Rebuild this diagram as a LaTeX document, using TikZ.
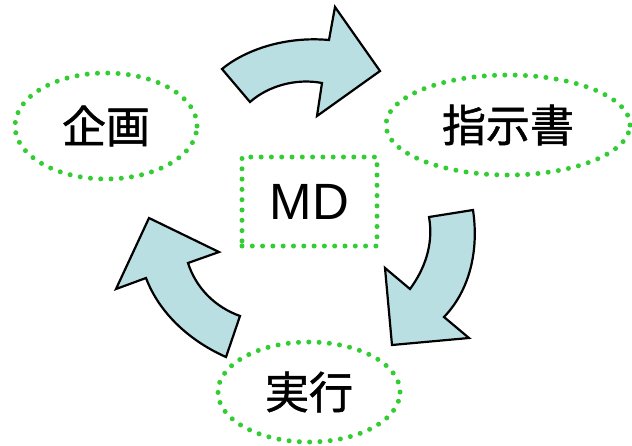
\documentclass[tikz,border=0pt]{standalone}
\usepackage{fontspec}
\setmainfont{Noto Sans CJK JP}
\newfontfamily\mdfont{Liberation Sans}
\usetikzlibrary{shapes.geometric}
\definecolor{dotgreen}{RGB}{50,205,50}
\definecolor{arrowfill}{RGB}{185,223,226}
\tikzset{
  dotline/.style={draw=dotgreen, line width=5pt, line cap=round, dash pattern=on 0pt off 10.3pt},
  ell/.style={ellipse, dotline, inner sep=0pt, font=\fontsize{44}{47}\selectfont\addfontfeatures{FakeBold=1.2}},
  blockarrow/.style={draw=black, line width=2.2pt, fill=arrowfill, line join=miter},
}
\begin{document}
\begin{tikzpicture}[x=1pt,y=-1pt]
\useasboundingbox (0,0) rectangle (632,445);
% ellipses
\node[ell, minimum width=182pt, minimum height=106pt] (kikaku) at (106,126) {企画};
\node[ell, minimum width=244pt, minimum height=100pt] (shiji) at (508,125) {指示書};
\node[ell, minimum width=182pt, minimum height=100pt] (jikko) at (309,392) {実行};
\node[dotline, rectangle, minimum width=135pt, minimum height=89pt, inner sep=0pt, font=\mdfont\fontsize{51}{54}\selectfont] (md) at (309.5,201.5) {MD};
% top arrow
\draw[blockarrow] (222,69) .. controls (245,50) and (285,36) .. (329,40)
  -- (335,7) -- (380,71) -- (317,116) -- (322,83)
  .. controls (296,78) and (268,86) .. (250,102) -- cycle;
% right arrow
\draw[blockarrow] (473,210) .. controls (479,250) and (470,290) .. (444,317)
  -- (469,338) -- (392,345) -- (385,268) -- (410,289)
  .. controls (424,270) and (434,245) .. (429,217) -- cycle;
% left arrow
\draw[blockarrow] (226,357) .. controls (192,342) and (160,315) .. (146,278)
  -- (116,289) -- (149,218) -- (219,252) -- (188,263)
  .. controls (196,288) and (215,307) .. (240,316) -- cycle;
\end{tikzpicture}
\end{document}
